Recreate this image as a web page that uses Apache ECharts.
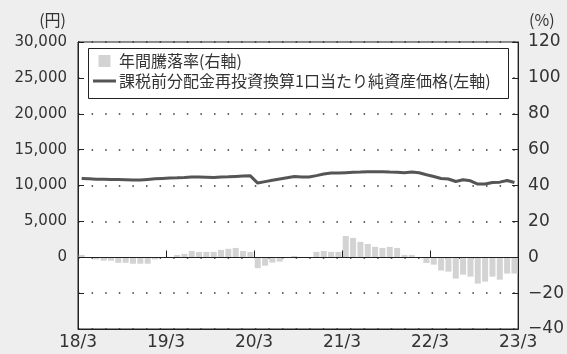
<!DOCTYPE html>
<html>
<head>
<meta charset="utf-8">
<script src="https://cdn.jsdelivr.net/npm/echarts@6/dist/echarts.min.js"></script>
<style>
  html, body { margin: 0; padding: 0; background: #eeeeee; }
  #chart { width: 567px; height: 354px; }
</style>
</head>
<body>
<div id="chart"></div>
<script>
// 月次 18/3〜23/3 (60本)
let xTickLabels = ['18/3', '19/3', '20/3', '21/3', '22/3', '23/3'];

// 年間騰落率(%)
let rateValues = [
  1.3, 0, -1.2, -1.9, -1.9, -3.1, -3.1, -3.6, -3.6, -3.6, -1.2, 0,
  0, 1.3, 1.9, 3.5, 3.0, 3.0, 3.0, 4.1, 4.7, 5.2, 3.5, 3.0,
  -6.1, -4.7, -3.0, -2.4, -0.4, 0.7, 0, 0, 3.0, 3.5, 3.0, 3.0,
  11.9, 10.8, 8.6, 7.4, 5.8, 5.2, 5.8, 5.2, 1.3, 1.3, 0, -3.2,
  -4.1, -7.4, -8.0, -11.9, -9.7, -10.8, -14.7, -13.6, -10.8, -12.5, -9.1, -9.1
];

// 課税前分配金再投資換算1口当たり純資産価格(円)
let navValues = [
  10980, 10930, 10880, 10880, 10840, 10820, 10790, 10750, 10750, 10840, 10930, 10980,
  11030, 11070, 11120, 11180, 11180, 11150, 11120, 11180, 11220, 11270, 11310, 11350,
  10340, 10540, 10730, 10910, 11080, 11250, 11200, 11180, 11380, 11590, 11730, 11730,
  11780, 11830, 11870, 11920, 11920, 11920, 11870, 11830, 11780, 11870, 11780, 11500,
  11260, 10980, 10900, 10560, 10800, 10660, 10200, 10200, 10420, 10470, 10700, 10420
];

let rateName = '年間騰落率(右軸)';
let navName = '課税前分配金再投資換算1口当たり純資産価格(左軸)';

let numFont = 'DejaVu Sans';
let jpFont = 'Noto Sans CJK JP';

let baseGraphic = [
  {
    id: 'unitLeft', type: 'text', right: 567 - 66, top: 12, z: 10,
    style: { text: '(円)', fontSize: 16, fontFamily: jpFont, fill: '#333' }
  },
  {
    id: 'unitRight', type: 'text', left: 529, top: 12, z: 10,
    style: { text: '(%)', fontSize: 16, fontFamily: jpFont, fill: '#333' }
  },
  {
    id: 'legendBox', type: 'rect', z: 10,
    shape: { x: 88.5, y: 48.5, width: 420, height: 50 },
    style: { fill: '#fff', stroke: '#222', lineWidth: 1 }
  }
];

let myChart = echarts.init(document.getElementById('chart'));

myChart.setOption({
  backgroundColor: '#eeeeee',
  animation: false,
  grid: {
    left: 78, right: 48, top: 42, bottom: 25,
    show: true,
    backgroundColor: '#fff',
    borderColor: '#222',
    borderWidth: 1
  },
  graphic: baseGraphic,
  legend: {
    orient: 'vertical',
    left: 93, top: 51,
    z: 11,
    padding: 0,
    itemGap: 0,
    itemWidth: 23,
    itemHeight: 12,
    textStyle: { fontSize: 16, fontFamily: jpFont, color: '#333', lineHeight: 20, padding: [0, 0, 0, -2] },
    data: [
      { name: rateName, icon: 'path://M0,0H10V10H0Z' },
      { name: navName, icon: 'path://M0,0H23V3H0Z' }
    ]
  },
  xAxis: {
    type: 'value',
    min: 0, max: 60, interval: 12,
    axisLine: { show: true, onZero: false, lineStyle: { color: '#222' } },
    axisTick: { show: false },
    splitLine: { show: false },
    axisLabel: {
      margin: 5,
      fontSize: 17,
      fontFamily: numFont,
      color: '#333',
      formatter: function (v) { return xTickLabels[v / 12]; }
    }
  },
  yAxis: [
    {
      type: 'value',
      min: -10000, max: 30000, interval: 5000,
      axisLine: { show: true, onZero: false, lineStyle: { color: '#222' } },
      axisTick: { show: true, inside: true, length: 6, lineStyle: { color: '#222' } },
      splitLine: { show: true, lineStyle: { color: '#333', width: 1.5, type: [1.5, 12.1] } },
      axisLabel: {
        margin: 11,
        fontSize: 15,
        fontFamily: numFont,
        color: '#333',
        formatter: function (v) { return v < 0 ? '' : v.toLocaleString('en-US'); }
      }
    },
    {
      type: 'value',
      min: -40, max: 120, interval: 20,
      position: 'right',
      axisLine: { show: true, onZero: false, lineStyle: { color: '#222' } },
      axisTick: { show: true, inside: true, length: 6, lineStyle: { color: '#222' } },
      splitLine: { show: false },
      axisLabel: {
        margin: 10,
        fontSize: 17,
        fontFamily: numFont,
        color: '#333',
        formatter: function (v) { return v < 0 ? '\u2212' + (-v) : String(v); }
      }
    }
  ],
  series: [
    {
      name: rateName,
      type: 'bar',
      yAxisIndex: 1,
      barWidth: 6,
      itemStyle: { color: '#d3d3d3' },
      data: rateValues.map(function (v, i) { return [i + 0.5, v]; })
    },
    {
      name: navName,
      type: 'line',
      yAxisIndex: 0,
      symbol: 'none',
      z: 6,
      lineStyle: { color: '#555', width: 3 },
      itemStyle: { color: '#555' },
      data: navValues.map(function (v, i) { return [i + 0.5, v]; })
    }
  ]
});

// 0の線と年の区切り目盛りを軸から位置を求めて描く
let y0 = Math.round(myChart.convertToPixel({ yAxisIndex: 1 }, 0)) + 0.5;
let xL = myChart.convertToPixel({ xAxisIndex: 0 }, 0);
let xR = myChart.convertToPixel({ xAxisIndex: 0 }, 60);
let zeroGraphic = [
  {
    id: 'zeroLine', type: 'line', z: 5, silent: true,
    shape: { x1: xL, y1: y0, x2: xR, y2: y0 },
    style: { stroke: '#222', lineWidth: 1 }
  }
];
for (let k = 1; k < xTickLabels.length - 1; k++) {
  let xk = Math.round(myChart.convertToPixel({ xAxisIndex: 0 }, k * 12)) + 0.5;
  zeroGraphic.push({
    id: 'yearTick' + k, type: 'line', z: 5, silent: true,
    shape: { x1: xk, y1: y0, x2: xk, y2: y0 - 7 },
    style: { stroke: '#222', lineWidth: 1 }
  });
}
myChart.setOption({ graphic: baseGraphic.concat(zeroGraphic) });
</script>
</body>
</html>
